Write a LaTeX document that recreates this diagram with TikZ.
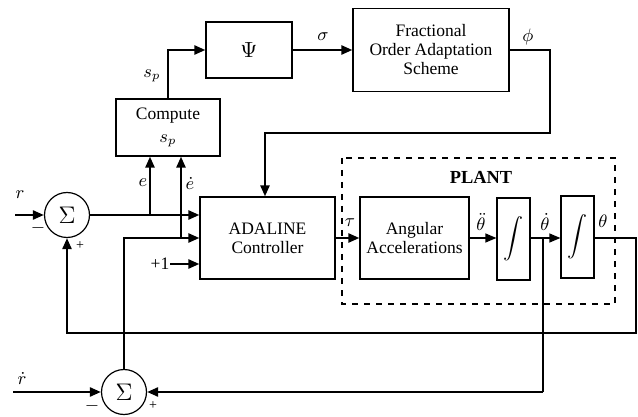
\documentclass[tikz,border=0pt]{standalone}
\usepackage{fontspec}
\setmainfont{Liberation Serif}
\usetikzlibrary{arrows.meta}
\begin{document}
\begin{tikzpicture}[x=0.5pt,y=-0.5pt,
  font=\rmfamily\fontsize{8.75}{10.5}\selectfont,
  box/.style={draw,line width=0.6pt,align=center,inner sep=0pt},
  sumc/.style={draw,circle,line width=0.6pt,minimum size=22.5pt,inner sep=0pt,font=\fontsize{13}{15}\selectfont},
  thk/.style={line width=1.2pt},
  thn/.style={line width=0.6pt},
  arr/.style={-{Triangle[length=5.5pt,width=4.5pt]}},
  lbl/.style={inner sep=0pt}]
\useasboundingbox (0,0) rectangle (638,417);
% boxes
\node[box,minimum width=43pt,minimum height=28pt,font=\fontsize{11}{13}\selectfont] (psi) at (249,50) {$\Psi$};
\node[box,minimum width=78pt,minimum height=41.5pt] (frac) at (431,50) {Fractional\\[-1pt]Order Adaptation\\[-1pt]Scheme};
\node[box,minimum width=52pt,minimum height=28.5pt] (comp) at (168,127.5) {Compute\\[1pt]$s_p$};
\node[box,minimum width=67.5pt,minimum height=41pt] (ada) at (267.5,238) {ADALINE\\[-1pt]Controller};
\node[box,minimum width=54.5pt,minimum height=41pt] (ang) at (414.5,238) {Angular\\[-1pt]Accelerations};
\node[box,minimum width=16.5pt,minimum height=41pt] (int1) at (513.5,239) {$\displaystyle\int$};
\node[box,minimum width=16.5pt,minimum height=41pt] (int2) at (577.5,237) {$\displaystyle\int$};
\draw[dashed,line width=0.6pt] (342,158) rectangle (615,304);
\node[lbl,font=\fontsize{9.2}{11}\selectfont\bfseries] (plant) at (481,177) {PLANT};
% summing junctions
\node[sumc] (s1) at (67,215) {$\Sigma$};
\node[sumc] (s2) at (124,392) {$\Sigma$};
% coordinates
\coordinate (rin) at (15,215);
\coordinate (rdin) at (13,392);
\coordinate (eb) at (150,215);
\coordinate (edl) at (124,238);
\coordinate (edb) at (181,238);
\coordinate (one) at (170,264);
\coordinate (thd) at (543,238);
\coordinate (fa) at (550,50);
\coordinate (fb) at (550,133);
\coordinate (fc) at (265,133);
\coordinate (ta) at (636,238);
\coordinate (tb) at (636,333);
\coordinate (tc) at (67,333);
\coordinate (sa) at (168,50);
% connectors
\draw[thk,arr] (comp.north) -- (sa) -- (psi.west);
\draw[thk,arr] (psi.east) -- (psi.east -| frac.west);
\draw[thk,arr] (frac.east |- fa) -- (fa) -- (fb) -- (fc) -- (fc |- ada.north);
\draw[thk,arr] (rin) -- (s1.west);
\draw[thk,arr] (s1.east) -- (s1.east -| ada.west);
\draw[thk,arr] (eb) -- (eb |- comp.south);
\draw[thk,arr] (s2.north) -- (edl) -- (edl -| ada.west);
\draw[thk,arr] (edb) -- (edb |- comp.south);
\draw[thk,arr] (one) -- (one -| ada.west);
\draw[thk,arr] (ada.east) -- (ang.west);
\draw[thn,arr] (ang.east) -- (ang.east -| int1.west);
\draw[thn,arr] (int1.east |- thd) -- (thd -| int2.west);
\draw[thn] (thd) -- (thd |- s2.east);
\draw[thk,arr] (thd |- s2.east) -- (s2.east);
\draw[thk,arr] (rdin) -- (s2.west);
\draw[thk,arr] (int2.east |- ta) -- (ta) -- (tb) -- (tc) -- (s1.south);
% labels
\node[lbl] at (152,76) {$s_p$};
\node[lbl] at (323,37) {$\sigma$};
\node[lbl] at (528,37) {$\phi$};
\node[lbl] at (143,183) {$e$};
\node[lbl] at (190,183) {$\dot e$};
\node[lbl] at (20,195) {$r$};
\node[lbl] at (38,228) {$-$};
\node[lbl,font=\fontsize{7}{8}\selectfont] at (80,246) {+};
\node[lbl] at (22,378) {$\dot r$};
\node[lbl] at (92,406) {$-$};
\node[lbl,font=\fontsize{7}{8}\selectfont] at (153,406) {+};
\node[lbl] at (160,264) {+1};
\node[lbl] at (350,223) {$\tau$};
\node[lbl] at (481,222) {$\ddot\theta$};
\node[lbl] at (545,222) {$\dot\theta$};
\node[lbl] at (603,221) {$\theta$};
\end{tikzpicture}
\end{document}
